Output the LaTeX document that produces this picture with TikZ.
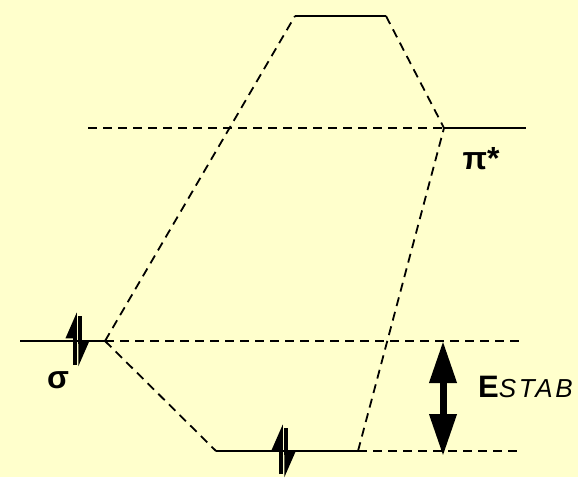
\documentclass[tikz,border=0pt]{standalone}
\usepackage{fontspec}
\setmainfont{Liberation Sans}
\usetikzlibrary{arrows.meta}
\definecolor{bg}{HTML}{FFFFCC}
\begin{document}
\begin{tikzpicture}[x=1pt,y=-1pt,
  level/.style={line width=2.4pt},
  conn/.style={line width=1.8pt,dash pattern=on 9pt off 6pt},
  elec/.style={line width=3.5pt,-{Stealth[harpoon,length=22pt,width=18pt,inset=0pt]}},
  lab/.style={inner sep=0pt,font=\fontsize{32}{32}\selectfont\bfseries},
  bigarrow/.style={line width=7pt,-{Triangle[length=42pt,width=26pt]}}]
\fill[bg] (0,0) rectangle (578,477);
\useasboundingbox (0,0) rectangle (578,477);
% level coordinates
\coordinate (tL) at (295,16); \coordinate (tR) at (386,16);
\coordinate (pD) at (88,128); \coordinate (pA) at (444,128); \coordinate (pR) at (526,128);
\coordinate (sL) at (20,341); \coordinate (sA) at (105,341); \coordinate (sD) at (522,341);
\coordinate (bL) at (216,451); \coordinate (bA) at (358,451); \coordinate (bD) at (518,451);
% levels
\draw[level] (tL) -- (tR);
\draw[level] (pA) -- (pR);
\draw[level] (sL) -- (sA);
\draw[level] (bL) -- (bA);
% dashed
\draw[conn] (pD) -- (pA);
\draw[conn] (sA) -- (sD);
\draw[conn] (bA) -- (bD);
\draw[conn] (sA) -- (tL);
\draw[conn] (tR) -- (pA);
\draw[conn] (sA) -- (bL);
\draw[conn] (bA) -- (pA);
% electrons
\coordinate (e1a) at (75,365); \coordinate (e1b) at (75,312);
\coordinate (e2a) at (80,316); \coordinate (e2b) at (80,367);
\coordinate (e3a) at (281,474); \coordinate (e3b) at (281,424);
\coordinate (e4a) at (286,428); \coordinate (e4b) at (286,478);
\draw[elec] (e1a) -- (e1b);
\draw[elec] (e2a) -- (e2b);
\draw[elec] (e3a) -- (e3b);
\draw[elec] (e4a) -- (e4b);
% E_stab arrow
\coordinate (aT) at (443,341); \coordinate (aB) at (443,456); \coordinate (aM) at (443,396);
\draw[bigarrow] (aM) -- (aT);
\draw[bigarrow] (aM) -- (aB);
% labels
\node[lab,anchor=base] (sig) at (58,388) {σ};
\node[lab,anchor=base] (pis) at (481,169) {π*};
\node[inner sep=0pt,anchor=base west] (E) at (478,397) {\fontsize{31}{31}\selectfont\bfseries E\mdseries\itshape\fontsize{26}{26}\selectfont\addfontfeature{LetterSpace=10}STAB};
\end{tikzpicture}
\end{document}
